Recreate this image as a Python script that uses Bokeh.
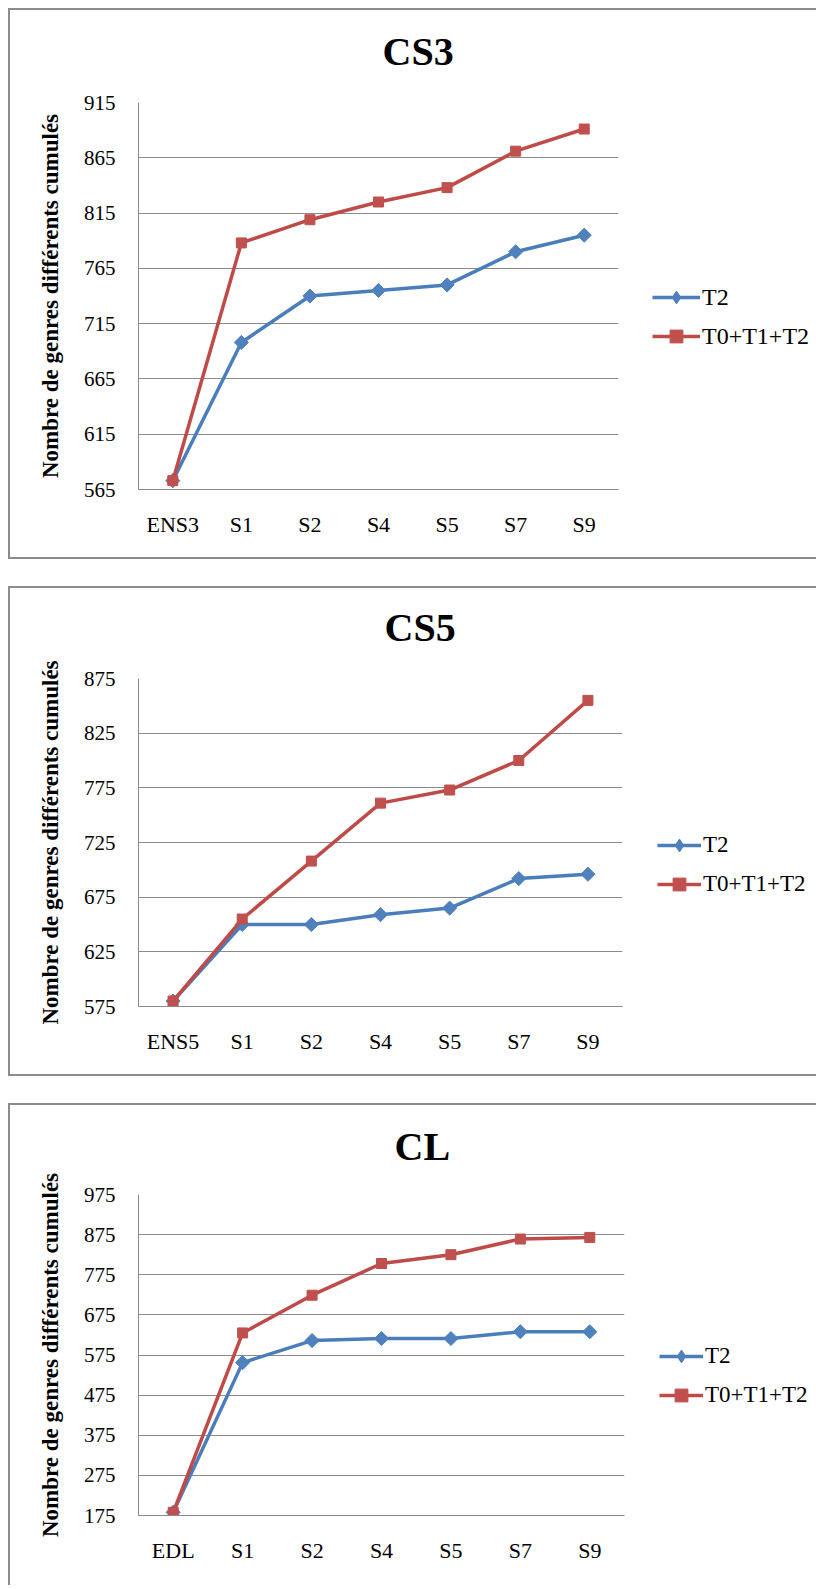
import numpy as np
from bokeh.plotting import figure
from bokeh.models import Range1d, FixedTicker, Legend, LegendItem, ColumnDataSource
from bokeh.layouts import column
from bokeh.embed import file_html
from bokeh.resources import INLINE

# ---------------- data ----------------
cats_cs3 = ["ENS3", "S1", "S2", "S4", "S5", "S7", "S9"]
cs3_t2 = [573, 698, 740, 745, 750, 780, 795]
cs3_all = [573, 788, 809, 825, 838, 871, 891]
cs3_ticks = [565, 615, 665, 715, 765, 815, 865, 915]

cats_cs5 = ["ENS5", "S1", "S2", "S4", "S5", "S7", "S9"]
cs5_t2 = [580, 650, 650, 659, 665, 692, 696]
cs5_all = [580, 655, 708, 761, 773, 800, 855]
cs5_ticks = [575, 625, 675, 725, 775, 825, 875]

cats_cl = ["EDL", "S1", "S2", "S4", "S5", "S7", "S9"]
cl_t2 = [183, 556, 611, 616, 616, 633, 633]
cl_all = [183, 630, 724, 803, 825, 864, 868]
cl_ticks = [175, 275, 375, 475, 575, 675, 775, 875, 975]

titles = ["CS3", "CS5", "CL"]
series_names = ["T2", "T0+T1+T2"]
ylabel = "Nombre de genres différents cumulés"

BLUE_LINE, BLUE_MK = "#4A7EBB", "#4F81BD"
RED_LINE, RED_MK = "#BE4B48", "#C0504D"
GRID = "#8a8a8a"
BOX = "2px solid #8c8c8c"
FONT = "Liberation Serif"
FIG_W = 804


def make_chart(title, cats, t2, tall, ticks, frame_w, frame_h, b_left, b_top, b_bottom,
               title_off, title_lh, leg_x, leg_y, leg_glyph_w, leg_font,
               bottom_border=True):
    b_right = FIG_W - b_left - frame_w
    p = figure(x_range=cats, y_range=Range1d(ticks[0], ticks[-1]),
               frame_width=frame_w, frame_height=frame_h,
               min_border_left=b_left, min_border_right=b_right,
               min_border_top=b_top, min_border_bottom=b_bottom,
               output_backend="svg", toolbar_location=None)
    p.x_range.range_padding = 0
    p.outline_line_color = None
    p.background_fill_color = "white"
    p.border_fill_color = "white"
    st = {"border-left": BOX, "border-top": BOX}
    if bottom_border:
        st["border-bottom"] = BOX
    p.styles = st

    # title: a trailing empty line (with tight line height) lifts the text above the frame
    p.title.text = title + "\n"
    p.title.text_line_height = title_lh
    p.title.text_font = FONT
    p.title.text_font_size = "40px"
    p.title.text_font_style = "bold"
    p.title.text_color = "black"
    p.title.align = "left"
    p.title.offset = title_off
    p.title.standoff = 0

    p.xgrid.grid_line_color = None
    p.ygrid.grid_line_color = GRID
    p.ygrid.grid_line_width = 1
    p.yaxis.ticker = FixedTicker(ticks=ticks)

    for ax in (p.xaxis[0], p.yaxis[0]):
        ax.axis_line_color = GRID
        ax.axis_line_width = 1
        ax.major_tick_line_color = None
        ax.minor_tick_line_color = None
        ax.major_tick_out = 0
        ax.major_tick_in = 0
        ax.major_label_text_font = FONT
        ax.major_label_text_color = "black"
    p.yaxis.major_label_text_font_size = "21px"
    p.xaxis.major_label_text_font_size = "22px"
    p.yaxis.major_label_standoff = 23
    p.xaxis.major_label_standoff = 22
    p.yaxis.axis_label = ylabel
    p.yaxis.axis_label_text_font = FONT
    p.yaxis.axis_label_text_font_size = "23px"
    p.yaxis.axis_label_text_font_style = "bold"
    p.yaxis.axis_label_text_color = "black"
    p.yaxis.axis_label_standoff = 18

    src = ColumnDataSource(dict(x=cats, t2=t2, tall=tall))
    first = ColumnDataSource(dict(x=cats[:1], t2=t2[:1]))
    l1 = p.line("x", "t2", source=src, line_color=BLUE_LINE, line_width=3.5)
    # legend-only diamond glyph, hidden beneath the first markers
    d1 = p.scatter("x", "t2", source=first, marker="diamond", size=5,
                   fill_color=BLUE_MK, line_color=BLUE_MK)
    p.scatter("x", "t2", source=src, marker="square", angle=np.pi / 4, size=10,
              fill_color=BLUE_MK, line_color=BLUE_MK)
    l2 = p.line("x", "tall", source=src, line_color=RED_LINE, line_width=3.5)
    m2 = p.scatter("x", "tall", source=src, marker="square", size=10,
                   fill_color=RED_MK, line_color=RED_MK)

    leg = Legend(items=[LegendItem(label=series_names[0], renderers=[l1, d1]),
                        LegendItem(label=series_names[1], renderers=[l2, m2])],
                 location=(leg_x, leg_y), orientation="vertical",
                 border_line_color=None, background_fill_alpha=0,
                 glyph_width=leg_glyph_w, glyph_height=32, label_standoff=2,
                 label_text_font=FONT, label_text_font_size=leg_font,
                 label_text_color="black", padding=0, margin=0, spacing=7)
    p.add_layout(leg, "right")
    return p


p1 = make_chart(titles[0], cats_cs3, cs3_t2, cs3_all, cs3_ticks,
                frame_w=478, frame_h=383, b_left=128, b_top=92, b_bottom=72,
                title_off=244, title_lh=0.63, leg_x=34, leg_y=137,
                leg_glyph_w=48, leg_font="24px")
p2 = make_chart(titles[1], cats_cs5, cs5_t2, cs5_all, cs5_ticks,
                frame_w=482, frame_h=324, b_left=127, b_top=90, b_bottom=72,
                title_off=246, title_lh=0.63, leg_x=35, leg_y=106,
                leg_glyph_w=44, leg_font="23px")
p3 = make_chart(titles[2], cats_cl, cl_t2, cl_all, cl_ticks,
                frame_w=484, frame_h=319, b_left=127, b_top=89, b_bottom=72,
                title_off=256, title_lh=0.57, leg_x=35, leg_y=104,
                leg_glyph_w=44, leg_font="23px", bottom_border=False)

layout = column(p1, p2, p3, spacing=27, margin=(8, 0, 0, 8))
open("out.html", "w").write(file_html(layout, INLINE))
